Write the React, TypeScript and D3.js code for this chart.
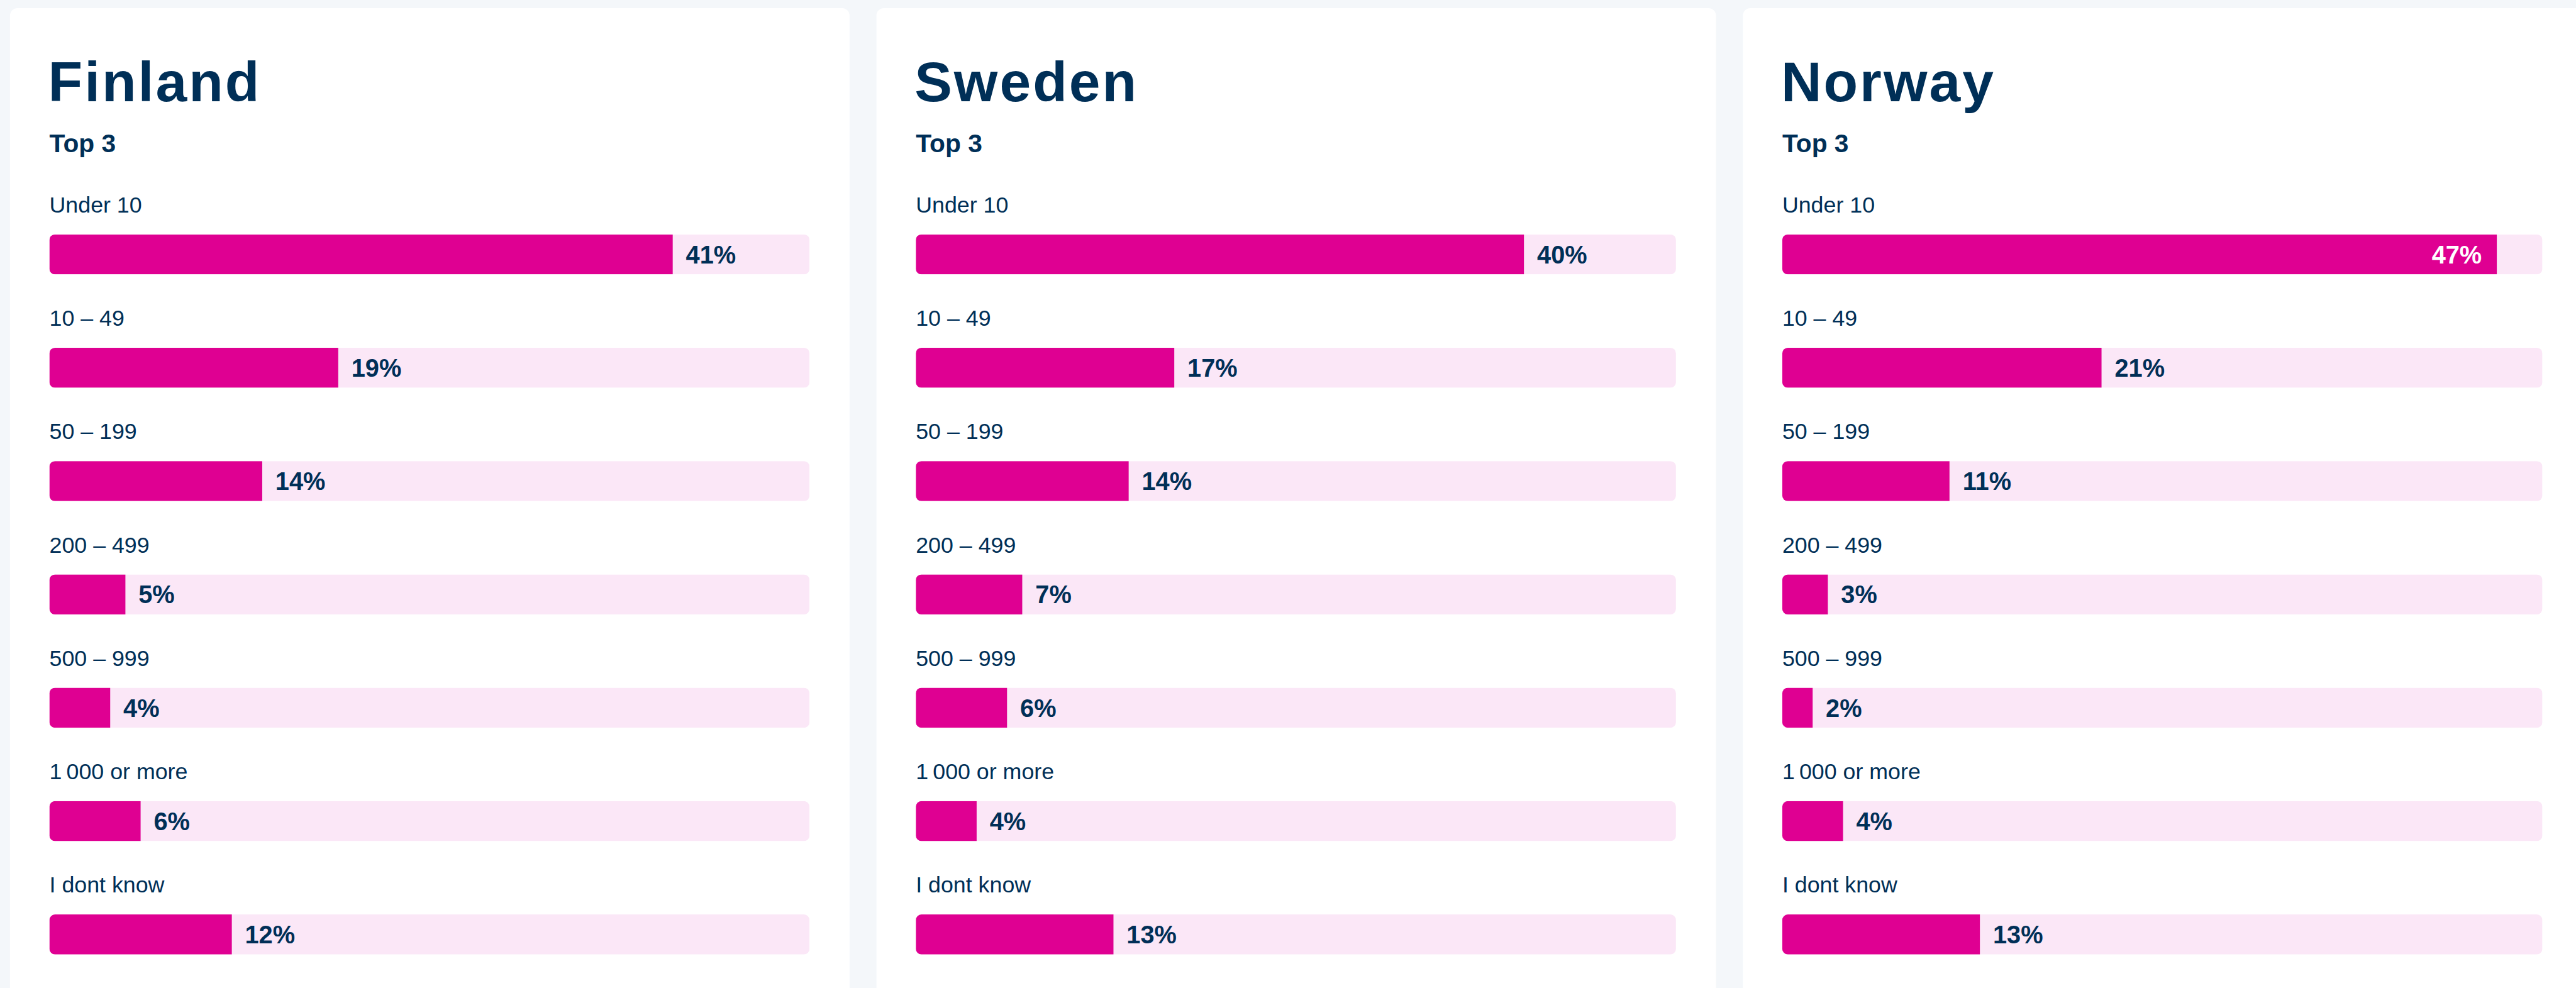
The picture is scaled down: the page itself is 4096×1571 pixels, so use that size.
import { useEffect } from "react";
import * as d3 from "d3";

const countries = ["Finland", "Sweden", "Norway"];
const categories = ["Under 10", "10 – 49", "50 – 199", "200 – 499", "500 – 999", "1\u2009000 or more", "I dont know"];
const finland = [41, 19, 14, 5, 4, 6, 12];
const sweden = [40, 17, 14, 7, 6, 4, 13];
const norway = [47, 21, 11, 3, 2, 4, 13];
const seriesByCountry = [finland, sweden, norway];
const subtitle = "Top 3";
const domainMax = 50;

// reference-size layout, scaled down at the end
const SCALE = 0.994;
const W = 4096;
const H = 1571;
const PANEL_X0 = 16;
const PANEL_STEP = 1386;
const PANEL_W = 1343;
const PANEL_TOP = 13;
const PAD_L = 63;
const TRACK_W = 1216;
const BAR_H = 64;
const FIRST_BAR = 375;
const ROW_STEP = 181.3;

const NAVY = "#002f57";
const PINK = "#df0092";
const TRACK = "#fbe7f7";
const BG = "#f4f7fa";
const FONT = "'Liberation Sans', Arial, Helvetica, sans-serif";

export default function App() {
  useEffect(() => {
    document.body.style.margin = "0";
  }, []);

  const x = d3.scaleLinear().domain([0, domainMax]).range([0, TRACK_W]);
  const y = d3.scaleBand<number>()
    .domain(d3.range(categories.length))
    .range([FIRST_BAR, FIRST_BAR + ROW_STEP * categories.length])
    .paddingInner(0);

  return (
    <svg width={W} height={H} style={{ display: "block", background: BG }} fontFamily={FONT}>
      <rect width={W} height={H} fill={BG} />
      <g transform={`scale(${SCALE})`}>
        {countries.map((country, ci) => {
          const px = PANEL_X0 + ci * PANEL_STEP;
          const cx = px + PAD_L;
          const values = seriesByCountry[ci];
          return (
            <g key={country}>
              <rect x={px} y={PANEL_TOP} width={PANEL_W} height={1700} rx={12} fill="#ffffff" />
              <text x={cx - 2} y={162} fill={NAVY} fontSize={90} fontWeight={700} letterSpacing={3}>
                {country}
              </text>
              <text x={cx} y={243} fill={NAVY} fontSize={41} fontWeight={700}>
                {subtitle}
              </text>
              {categories.map((cat, i) => {
                const top = y(i)!;
                const v = values[i];
                const fw = x(v);
                const inside = v / domainMax > 0.85;
                const clipId = `clip-${ci}-${i}`;
                return (
                  <g key={cat}>
                    <text x={cx} y={top - 35} fill={NAVY} fontSize={36}>
                      {cat}
                    </text>
                    <clipPath id={clipId}>
                      <rect x={cx} y={top} width={TRACK_W} height={BAR_H} rx={9} />
                    </clipPath>
                    <g clipPath={`url(#${clipId})`}>
                      <rect x={cx} y={top} width={TRACK_W} height={BAR_H} fill={TRACK} />
                      <rect x={cx} y={top} width={fw} height={BAR_H} fill={PINK} />
                    </g>
                    <text
                      x={inside ? cx + fw - 24 : cx + fw + 21}
                      y={top + BAR_H / 2}
                      dy="0.36em"
                      textAnchor={inside ? "end" : "start"}
                      fill={inside ? "#ffffff" : NAVY}
                      fontSize={40}
                      fontWeight={700}
                    >
                      {`${v}%`}
                    </text>
                  </g>
                );
              })}
            </g>
          );
        })}
      </g>
    </svg>
  );
}
